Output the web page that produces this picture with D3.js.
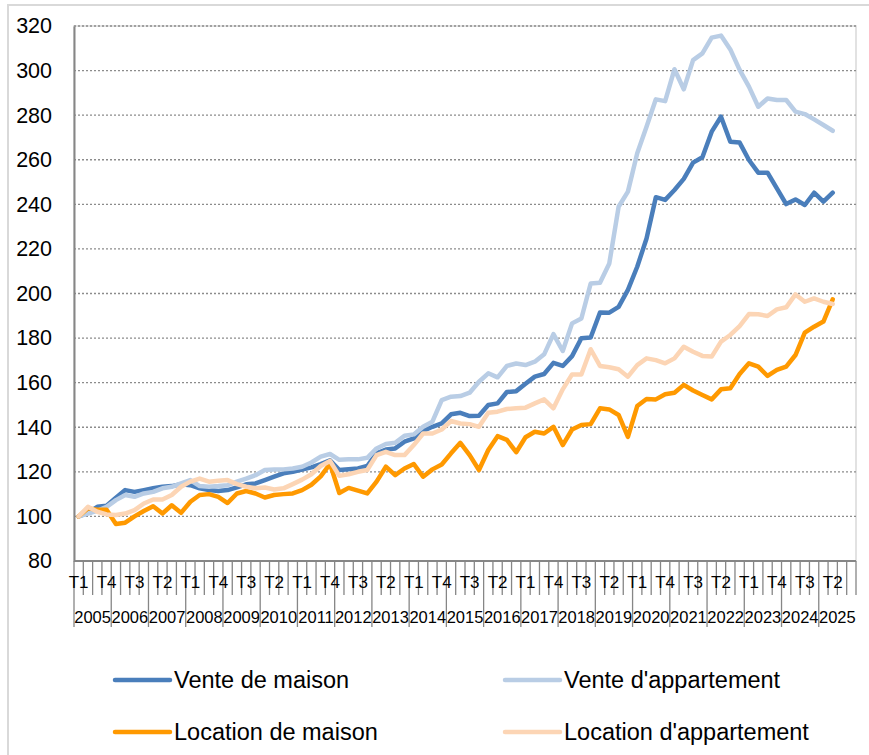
<!DOCTYPE html>
<html>
<head>
<meta charset="utf-8">
<script src="https://cdn.jsdelivr.net/npm/d3@7"></script>
<style>
  body { margin: 0; background: #fff; }
  text { font-family: "Liberation Sans", Arial, sans-serif; fill: #000; }
</style>
</head>
<body>
<div id="chart"></div>
<script>
// axe des catégories : années x trimestres (2025 T3/T4 vides)
var years = d3.range(2005, 2026);
var quarters = ["T1", "T2", "T3", "T4"];
var yTicks = [80, 100, 120, 140, 160, 180, 200, 220, 240, 260, 280, 300, 320];

var venteMaison = [100, 101.6, 104.3, 104.8, 108.4, 111.8, 111, 111.8, 112.6, 113.3, 113.6, 114.4,
    114, 112.6, 111.8, 111.4, 111.8, 113, 114.4, 114.8, 116.3, 117.8, 119.3, 120,
    121, 122, 123.5, 125.2, 120.8, 121.2, 121.5, 122.6, 128.3, 130, 130.5, 133.5,
    135, 138.3, 140.2, 141.7, 145.8, 146.5, 145, 145.2, 150, 150.7, 155.8, 156.2,
    159.5, 162.7, 163.9, 168.9, 167.5, 171.9, 179.9, 180.3, 191.5, 191.4, 194, 201.6,
    212, 224.7, 243.2, 242, 246.4, 251.4, 258.7, 261.1, 272.6, 279.3, 268.1, 267.7,
    259.9, 254.2, 254.2, 247.2, 240.1, 242.2, 239.7, 245.2, 241.2, 245.2];

var venteAppartement = [100, 101.3, 102.5, 104.3, 107.3, 109.6, 108.8, 110.3, 111, 112.6, 113.3, 114.8,
    116.3, 113.6, 113.3, 113.6, 114, 115.6, 117, 118.5, 120.8, 121.1, 121.1, 121.5,
    122.3, 124.2, 126.8, 128, 125.4, 125.6, 125.6, 126.3, 130.5, 132.5, 133, 136.2,
    136.8, 140.2, 142.5, 152.2, 153.7, 154, 155.5, 160.4, 164.2, 162.4, 167.5, 168.6,
    167.9, 169.4, 172.7, 181.8, 174.2, 186.6, 188.8, 204.5, 204.8, 213.5, 238.9, 245.7,
    262.9, 274.8, 287.1, 286.3, 300.6, 291.6, 304.7, 307.7, 314.8, 315.7, 309.5, 300.3,
    292.8, 283.8, 287.5, 286.8, 286.8, 281.6, 280.5, 278.1, 275.6, 273];

var locationMaison = [100, 103.6, 103, 103, 96.6, 97.2, 100, 102.4, 104.6, 101.3, 105, 101.6,
    106.6, 109.6, 110, 108.8, 106, 110.3, 111.4, 110.3, 108.5, 109.6, 110, 110.3,
    111.8, 114.2, 118, 123.6, 110.5, 112.8, 111.6, 110.3, 115.6, 122.3, 118.5, 121.5,
    123.5, 117.8, 121.1, 123.3, 128.3, 133, 127.5, 120.8, 129.8, 136, 134.3, 128.8,
    135.5, 138, 137.2, 140.2, 132, 139, 141, 141.4, 148.5, 148, 145.5, 135.7,
    149.5, 152.7, 152.5, 154.8, 155.5, 159, 156.5, 154.5, 152.5, 157, 157.5, 163.9,
    168.7, 167.2, 163, 165.7, 167.2, 172.4, 182.4, 185.1, 187.4, 197.4];

var locationAppartement = [100, 104.3, 102.1, 100.9, 100.6, 101.3, 102.8, 105.8, 107.6, 107.6, 109.6, 113.3,
    115.6, 117, 115.6, 116, 116.3, 114.5, 113.3, 112.6, 113, 112.1, 112.6, 114.5,
    116.5, 118.9, 122.6, 124.9, 118.2, 118.9, 120, 120.8, 127.5, 129, 127.5, 127.5,
    132, 137.2, 137.2, 139, 142.8, 141.7, 141.4, 140.2, 146.5, 147, 148.2, 148.5,
    148.8, 150.7, 152.5, 148.5, 157, 163.7, 163.7, 175, 167.5, 166.9, 166, 162.7,
    167.9, 170.9, 170.1, 168.7, 170.9, 176.1, 173.9, 172, 171.7, 178.4, 181.4, 185.4,
    190.8, 190.7, 189.9, 192.9, 193.8, 199.6, 196.3, 197.8, 196.3, 195.3];

var seriesNames = ["Vente de maison", "Vente d'appartement", "Location de maison", "Location d'appartement"];
var seriesColors = ["#4a7ebb", "#b9cde5", "#ff9900", "#fcd5b5"];

const width = 869;
const height = 755;
const plotLeft = 74;
const plotRight = 856;
const plotTop = 26;
const plotBottom = 561;

// categories = chaque trimestre de chaque année
const categories = [];
years.forEach(yr => quarters.forEach(q => categories.push({ year: yr, q: q })));

const x = d3.scaleBand()
    .domain(d3.range(categories.length))
    .range([plotLeft, plotRight]);

const y = d3.scaleLinear()
    .domain([80, 320])
    .range([plotBottom, plotTop]);

const svg = d3.select("#chart").append("svg")
    .attr("width", width)
    .attr("height", height);

// cadre du graphique
svg.append("rect")
    .attr("x", 8).attr("y", 5)
    .attr("width", width + 20).attr("height", height + 20)
    .attr("fill", "none")
    .attr("stroke", "#d9d9d9")
    .attr("stroke-width", 2);

// bordure de la zone de tracé
svg.append("rect")
    .attr("x", plotLeft).attr("y", plotTop)
    .attr("width", plotRight - plotLeft).attr("height", plotBottom - plotTop)
    .attr("fill", "none")
    .attr("stroke", "#d9d9d9")
    .attr("stroke-width", 1.5);

// grille pointillée
svg.append("g")
    .selectAll("line")
    .data(yTicks.filter(d => d > 80))
    .join("line")
    .attr("x1", plotLeft).attr("x2", plotRight)
    .attr("y1", d => y(d)).attr("y2", d => y(d))
    .attr("stroke", "#8c8c8c")
    .attr("stroke-width", 1.4)
    .attr("stroke-dasharray", "2,2");

// axe Y
const yAxis = svg.append("g")
    .attr("transform", `translate(${plotLeft},0)`)
    .call(d3.axisLeft(y).tickValues(yTicks).tickSize(0).tickPadding(22));
yAxis.select(".domain").attr("stroke", "#868686").attr("stroke-width", 2);
yAxis.selectAll("text").style("font-size", "21.5px");

// axe X à deux niveaux
const gx = svg.append("g");
gx.append("line")
    .attr("x1", plotLeft).attr("x2", plotRight)
    .attr("y1", plotBottom).attr("y2", plotBottom)
    .attr("stroke", "#868686").attr("stroke-width", 2);

gx.selectAll(".tick")
    .data(d3.range(categories.length + 1))
    .join("line")
    .attr("x1", k => plotLeft + k * x.step())
    .attr("x2", k => plotLeft + k * x.step())
    .attr("y1", plotBottom)
    .attr("y2", k => (k % 4 === 0 && k < categories.length) ? 627 : 595)
    .attr("stroke", "#868686")
    .attr("stroke-width", 1.3);

gx.selectAll(".qlabel")
    .data(d3.range(venteMaison.length).filter(i => i % 3 === 0))
    .join("text")
    .attr("x", i => x(i) + x.bandwidth() / 2)
    .attr("y", 588)
    .attr("text-anchor", "middle")
    .style("font-size", "17px")
    .text(i => categories[i].q);

gx.selectAll(".ylabel")
    .data(years)
    .join("text")
    .attr("x", (yr, j) => x(j * 4) + 2 * x.step())
    .attr("y", 623)
    .attr("text-anchor", "middle")
    .style("font-size", "16.5px")
    .text(yr => yr);

// courbes
const allSeries = [venteMaison, venteAppartement, locationMaison, locationAppartement];
const line = d3.line()
    .x((d, i) => x(i) + x.bandwidth() / 2)
    .y(d => y(d));

svg.append("g")
    .selectAll("path")
    .data(allSeries)
    .join("path")
    .attr("d", d => line(d))
    .attr("fill", "none")
    .attr("stroke", (d, i) => seriesColors[i])
    .attr("stroke-width", 4.5)
    .attr("stroke-linejoin", "round")
    .attr("stroke-linecap", "round");

// légende
const legendPos = [[115, 680], [505, 680], [115, 732], [505, 732]];
const legend = svg.append("g")
    .selectAll("g")
    .data(seriesNames)
    .join("g")
    .attr("transform", (d, i) => `translate(${legendPos[i][0]},${legendPos[i][1]})`);

legend.append("line")
    .attr("x1", 0).attr("x2", 55)
    .attr("stroke", (d, i) => seriesColors[i])
    .attr("stroke-width", 4.5)
    .attr("stroke-linecap", "round");

legend.append("text")
    .attr("x", 59)
    .attr("dy", "0.35em")
    .style("font-size", "23.5px")
    .text(d => d);
</script>
</body>
</html>
